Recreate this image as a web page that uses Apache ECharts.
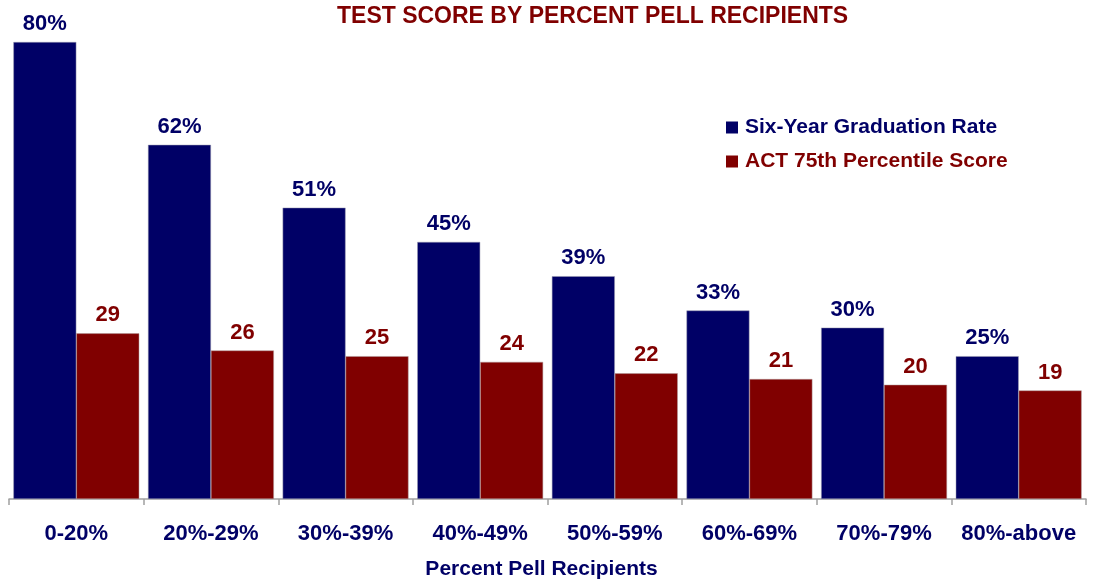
<!DOCTYPE html>
<html>
<head>
<meta charset="utf-8">
<script src="https://cdn.jsdelivr.net/npm/echarts@6/dist/echarts.min.js"></script>
<style>
  html, body { margin: 0; padding: 0; background: #fff; }
  #chart { width: 1093px; height: 583px; }
</style>
</head>
<body>
<div id="chart"></div>
<script>
// categories and values
const categories = ['0-20%', '20%-29%', '30%-39%', '40%-49%', '50%-59%', '60%-69%', '70%-79%', '80%-above']
const gradRate = [80, 62, 51, 45, 39, 33, 30, 25]
const actScore = [29, 26, 25, 24, 22, 21, 20, 19]

const navy = '#000066'
const maroon = '#800000'
const font = 'Liberation Sans, Arial, sans-serif'

const chart = echarts.init(document.getElementById('chart'))
const option = {
  animation: false,
  title: {
    text: 'TEST SCORE BY PERCENT PELL RECIPIENTS',
    left: 332,
    top: 0,
    textStyle: { color: maroon, fontFamily: font, fontWeight: 'bold', fontSize: 23 }
  },
  legend: {
    orient: 'vertical',
    left: 721,
    top: 112,
    itemWidth: 12,
    itemHeight: 12,
    itemGap: 13,
    icon: 'rect',
    itemStyle: { borderWidth: 0 },
    textStyle: { fontFamily: font, fontWeight: 'bold', fontSize: 21, padding: [0, 0, 0, 2] },
    data: [
      { name: 'Six-Year Graduation Rate', textStyle: { color: navy } },
      { name: 'ACT 75th Percentile Score', textStyle: { color: maroon } }
    ]
  },
  grid: { left: 9, right: 7, top: 42, bottom: 84, outerBoundsMode: 'none' },
  xAxis: {
    type: 'category',
    data: categories,
    name: 'Percent Pell Recipients',
    nameLocation: 'middle',
    nameGap: 60,
    nameTextStyle: { color: navy, fontFamily: font, fontWeight: 'bold', fontSize: 21, padding: [0, 12, 0, 0] },
    axisLine: { lineStyle: { color: '#a0a0a0', width: 1.5 } },
    axisTick: { show: true, length: 6, lineStyle: { color: '#a0a0a0', width: 1.5 } },
    axisLabel: { interval: 0, color: navy, fontFamily: font, fontWeight: 'bold', fontSize: 22, margin: 24 }
  },
  yAxis: {
    type: 'value',
    min: 0,
    max: 80,
    show: false
  },
  series: [
    {
      name: 'Six-Year Graduation Rate',
      type: 'bar',
      data: gradRate,
      barGap: '0%',
      barCategoryGap: '6.5%',
      itemStyle: { color: navy, borderColor: '#9a9ab0', borderWidth: 0.5 },
      label: {
        show: true,
        position: 'top',
        distance: 7,
        formatter: '{c}%',
        color: navy,
        fontFamily: font,
        fontWeight: 'bold',
        fontSize: 22
      }
    },
    {
      name: 'ACT 75th Percentile Score',
      type: 'bar',
      data: actScore,
      itemStyle: { color: maroon, borderColor: '#b09a9a', borderWidth: 0.5 },
      label: {
        show: true,
        position: 'top',
        distance: 7,
        color: maroon,
        fontFamily: font,
        fontWeight: 'bold',
        fontSize: 22
      }
    }
  ]
}
chart.setOption(option)
</script>
</body>
</html>
